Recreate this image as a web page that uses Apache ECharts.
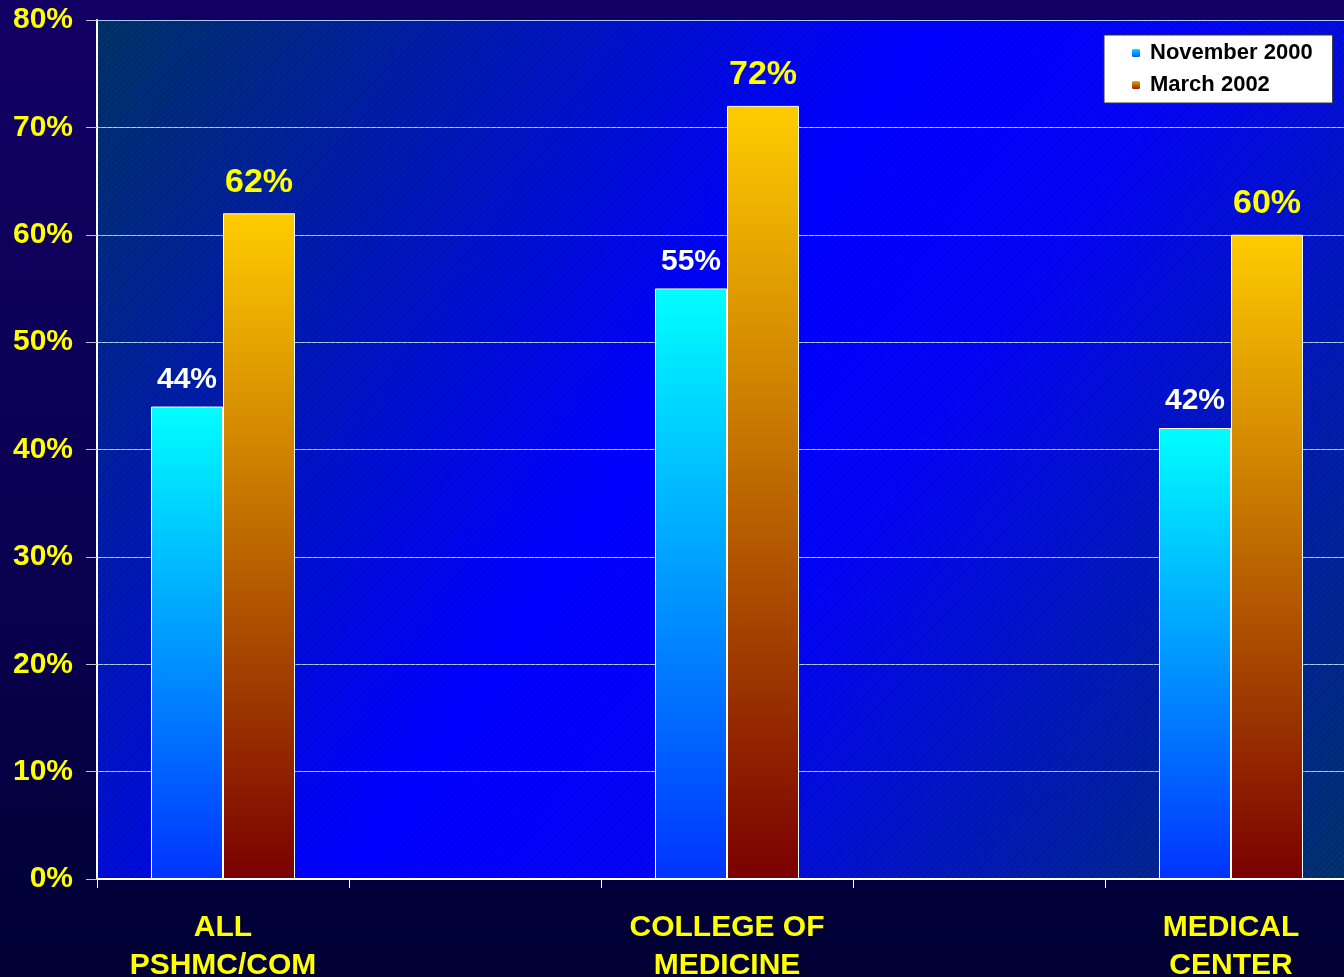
<!DOCTYPE html>
<html>
<head>
<meta charset="utf-8">
<script src="https://cdn.jsdelivr.net/npm/echarts@6/dist/echarts.min.js"></script>
<style>
  html, body { margin: 0; padding: 0; background: #000033; }
  #chart { width: 1344px; height: 977px; }
</style>
</head>
<body>
<div id="chart"></div>
<script>
// groups shown on the x axis (empty slots sit between them)
const categories = ['ALL\nPSHMC/COM', 'COLLEGE OF\nMEDICINE', 'MEDICAL\nCENTER'];
const nov2000 = [44, 55, 42];
const mar2002 = [62, 72, 60];
const yTicks = [0, 10, 20, 30, 40, 50, 60, 70, 80];

// spread the groups out with an empty slot between each
function spread(arr, blank) {
    const out = [];
    arr.forEach((v, i) => {
        if (i > 0) out.push(blank);
        out.push(v);
    });
    return out;
}

// fine diagonal hatch used over the plot area
function hatch() {
    const c = document.createElement('canvas');
    c.width = 6; c.height = 6;
    const ctx = c.getContext('2d');
    ctx.strokeStyle = 'rgba(0,0,40,0.3)';
    ctx.lineWidth = 1;
    ctx.beginPath();
    ctx.moveTo(-1, 7); ctx.lineTo(7, -1);
    ctx.moveTo(-1, 1); ctx.lineTo(1, -1);
    ctx.moveTo(5, 7); ctx.lineTo(7, 5);
    ctx.stroke();
    return c;
}

const font = "'Liberation Sans', Arial, sans-serif";
const chart = echarts.init(document.getElementById('chart'));

const novColor = new echarts.graphic.LinearGradient(0, 0, 0, 1, [
    { offset: 0, color: '#00ffff' },
    { offset: 1, color: '#0033ff' }
]);
const marColor = new echarts.graphic.LinearGradient(0, 0, 0, 1, [
    { offset: 0, color: '#ffcc00' },
    { offset: 1, color: '#7a0000' }
]);

chart.setOption({
    animation: false,
    backgroundColor: new echarts.graphic.LinearGradient(0, 0, 0, 1, [
        { offset: 0, color: '#120064' },
        { offset: 0.6, color: '#0a0050' },
        { offset: 1, color: '#000033' }
    ]),
    grid: {
        left: 97,
        top: 20,
        bottom: 98,
        right: -13,
        outerBoundsMode: 'none',
        containLabel: false,
        show: true,
        borderWidth: 0,
        backgroundColor: new echarts.graphic.LinearGradient(0, 0, 1, 1, [
            { offset: 0, color: '#003366' },
            { offset: 0.45, color: '#0000ff' },
            { offset: 0.6, color: '#0505f5' },
            { offset: 1, color: '#00336b' }
        ])
    },
    graphic: [{
        type: 'rect',
        silent: true,
        z: 1,
        shape: { x: 98, y: 21, width: 1260, height: 857 },
        style: { fill: { image: hatch(), repeat: 'repeat' } }
    }],
    legend: {
        left: 1104,
        top: 35,
        orient: 'vertical',
        backgroundColor: '#ffffff',
        borderColor: '#333333',
        borderWidth: 1,
        padding: [6, 20, 6, 26],
        itemWidth: 10,
        itemHeight: 10,
        itemGap: 8,
        textStyle: {
            color: '#000000', fontWeight: 'bold', fontSize: 22, fontFamily: font,
            lineHeight: 24, padding: [0, 0, 0, 4]
        },
        data: ['November 2000', 'March 2002']
    },
    xAxis: {
        type: 'category',
        data: spread(categories, ''),
        axisLine: { lineStyle: { color: '#ffffff', width: 2 } },
        axisTick: { show: true, length: 9, lineStyle: { color: '#ffffff' }, interval: 0 },
        axisLabel: {
            interval: 0,
            color: '#ffff00',
            fontWeight: 'bold',
            fontSize: 30,
            fontFamily: font,
            lineHeight: 38,
            margin: 30
        }
    },
    yAxis: {
        type: 'value',
        min: yTicks[0],
        max: yTicks[yTicks.length - 1],
        interval: 10,
        axisLine: { show: true, lineStyle: { color: '#ffffff', width: 2 } },
        axisTick: { show: true, length: 11, lineStyle: { color: '#c0c0d0' } },
        splitLine: { lineStyle: { color: '#a8c8ff', width: 1 } },
        axisLabel: {
            formatter: '{value}%',
            color: '#ffff00',
            fontWeight: 'bold',
            fontSize: 30,
            fontFamily: font,
            margin: 24
        }
    },
    series: [
        {
            name: 'November 2000',
            type: 'bar',
            barWidth: 72,
            barGap: '0%',
            data: spread(nov2000, null),
            itemStyle: { color: novColor, borderColor: '#ffffff', borderWidth: 1 },
            label: {
                show: true,
                position: 'top',
                distance: 12,
                formatter: '{c}%',
                color: '#ffffff',
                fontWeight: 'bold',
                fontSize: 30,
                fontFamily: font
            }
        },
        {
            name: 'March 2002',
            type: 'bar',
            barWidth: 72,
            data: spread(mar2002, null),
            itemStyle: { color: marColor, borderColor: '#ffffff', borderWidth: 1 },
            label: {
                show: true,
                position: 'top',
                distance: 14,
                formatter: '{c}%',
                color: '#ffff00',
                fontWeight: 'bold',
                fontSize: 34,
                fontFamily: font
            }
        }
    ]
});
</script>
</body>
</html>
